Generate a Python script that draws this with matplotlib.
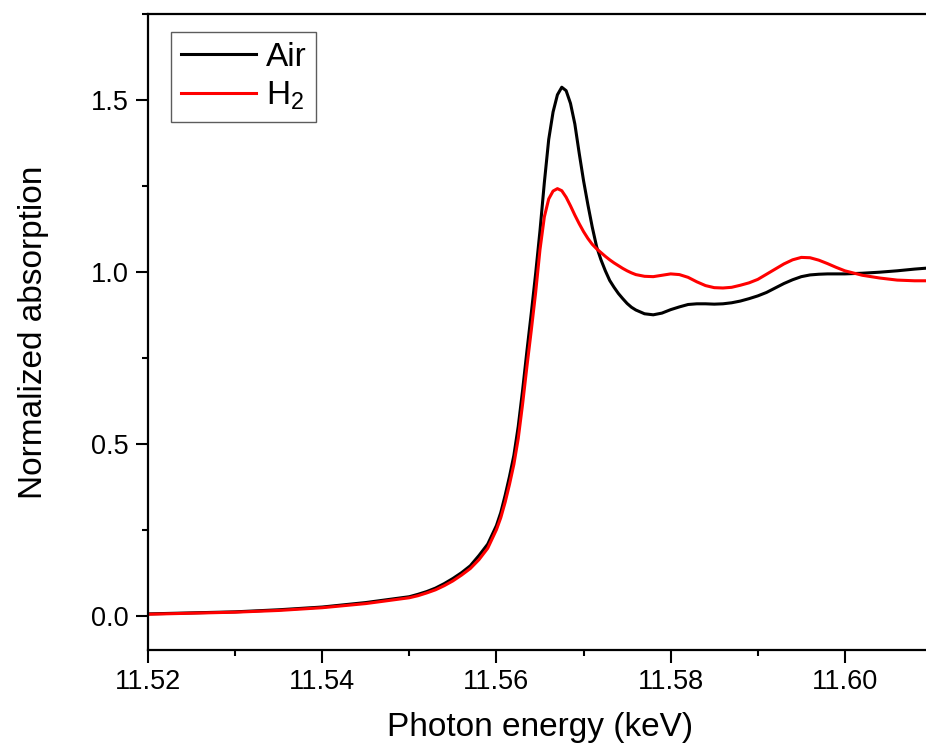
import matplotlib
matplotlib.use("Agg")
import matplotlib.pyplot as plt
from matplotlib.ticker import MultipleLocator, FormatStrFormatter

plt.rcParams['font.family'] = ['Liberation Sans', 'DejaVu Sans']
plt.rcParams['mathtext.fontset'] = 'custom'
plt.rcParams['mathtext.rm'] = 'Liberation Sans'
plt.rcParams['mathtext.it'] = 'Liberation Sans:italic'

# Photon energy grid (keV)
energy = [11.520, 11.525, 11.530, 11.535, 11.540, 11.545, 11.550, 11.551,
          11.552, 11.553, 11.554, 11.555, 11.556, 11.557, 11.558, 11.559,
          11.5600, 11.5605, 11.5610, 11.5615, 11.5620, 11.5625, 11.5630, 11.5635,
          11.5640, 11.5645, 11.5650, 11.5655, 11.5660, 11.5665, 11.5670, 11.5675,
          11.5680, 11.5685, 11.5690, 11.5695, 11.5700, 11.5705, 11.5710, 11.5715,
          11.5720, 11.5725, 11.5730, 11.5735, 11.5740, 11.5745, 11.5750, 11.5755,
          11.5760, 11.577, 11.578, 11.579, 11.580, 11.581, 11.582, 11.583,
          11.584, 11.585, 11.586, 11.587, 11.588, 11.589, 11.590, 11.591,
          11.592, 11.593, 11.594, 11.595, 11.596, 11.597, 11.598, 11.599,
          11.600, 11.602, 11.604, 11.606, 11.608, 11.610]

# Normalized absorption, sample in air
mu_air = [0.005, 0.008, 0.011, 0.017, 0.025, 0.038, 0.055, 0.062,
          0.070, 0.080, 0.093, 0.108, 0.125, 0.145, 0.175, 0.208,
          0.262, 0.300, 0.350, 0.405, 0.466, 0.550, 0.655, 0.770,
          0.880, 0.995, 1.120, 1.260, 1.385, 1.465, 1.515, 1.537,
          1.527, 1.490, 1.430, 1.345, 1.265, 1.195, 1.130, 1.073,
          1.035, 1.003, 0.975, 0.955, 0.937, 0.922, 0.908, 0.897,
          0.889, 0.878, 0.875, 0.880, 0.890, 0.898, 0.905, 0.907,
          0.907, 0.906, 0.907, 0.910, 0.915, 0.922, 0.930, 0.940,
          0.953, 0.966, 0.977, 0.986, 0.991, 0.993, 0.994, 0.994,
          0.994, 0.996, 0.999, 1.003, 1.008, 1.012]

# Normalized absorption, sample under H2
mu_h2 = [0.004, 0.007, 0.010, 0.015, 0.023, 0.035, 0.052, 0.058,
         0.066, 0.075, 0.087, 0.101, 0.118, 0.137, 0.163, 0.196,
         0.250, 0.285, 0.330, 0.382, 0.440, 0.515, 0.615, 0.725,
         0.830, 0.940, 1.065, 1.160, 1.212, 1.235, 1.242, 1.236,
         1.217, 1.192, 1.165, 1.140, 1.117, 1.097, 1.080, 1.067,
         1.056, 1.045, 1.035, 1.026, 1.018, 1.010, 1.003, 0.997,
         0.992, 0.987, 0.986, 0.990, 0.994, 0.992, 0.984, 0.971,
         0.960, 0.954, 0.953, 0.955, 0.961, 0.968, 0.978, 0.993,
         1.008, 1.023, 1.035, 1.042, 1.041, 1.034, 1.024, 1.013,
         1.003, 0.990, 0.982, 0.976, 0.974, 0.974]

fig = plt.figure(figsize=(9.26, 7.52), dpi=100)
ax = fig.add_axes([148 / 926, 102 / 752, 784 / 926, 636 / 752])

ax.plot(energy, mu_air, color='black', lw=2.2, label='Air')
ax.plot(energy, mu_h2, color='#ff0000', lw=2.2, label='H$_2$')

ax.set_xlim(11.52, 11.61)
ax.set_ylim(-0.1, 1.75)

ax.xaxis.set_major_locator(MultipleLocator(0.02))
ax.xaxis.set_minor_locator(MultipleLocator(0.01))
ax.yaxis.set_major_locator(MultipleLocator(0.5))
ax.yaxis.set_minor_locator(MultipleLocator(0.25))
ax.xaxis.set_major_formatter(FormatStrFormatter('%.2f'))
ax.yaxis.set_major_formatter(FormatStrFormatter('%.1f'))

ax.tick_params(which='both', direction='out', width=1.5, top=False, right=False,
               labelsize=19.5, colors='black')
ax.tick_params(which='major', length=9, pad=5)
ax.tick_params(which='minor', length=4.5)
for sp in ax.spines.values():
    sp.set_linewidth(1.6)

ax.set_xlabel('Photon energy (keV)', fontsize=24, labelpad=12)
ax.set_ylabel('Normalized absorption', fontsize=24, labelpad=30)

leg = ax.legend(loc='upper left', bbox_to_anchor=(0.029, 0.972), fontsize=24,
                frameon=True, fancybox=False, handlelength=2.25, handletextpad=0.3,
                borderpad=0.3, labelspacing=0.2, borderaxespad=0.0)
leg.get_frame().set_edgecolor('#333333')
leg.get_frame().set_linewidth(1.0)

fig.savefig('out.png', dpi=100)
